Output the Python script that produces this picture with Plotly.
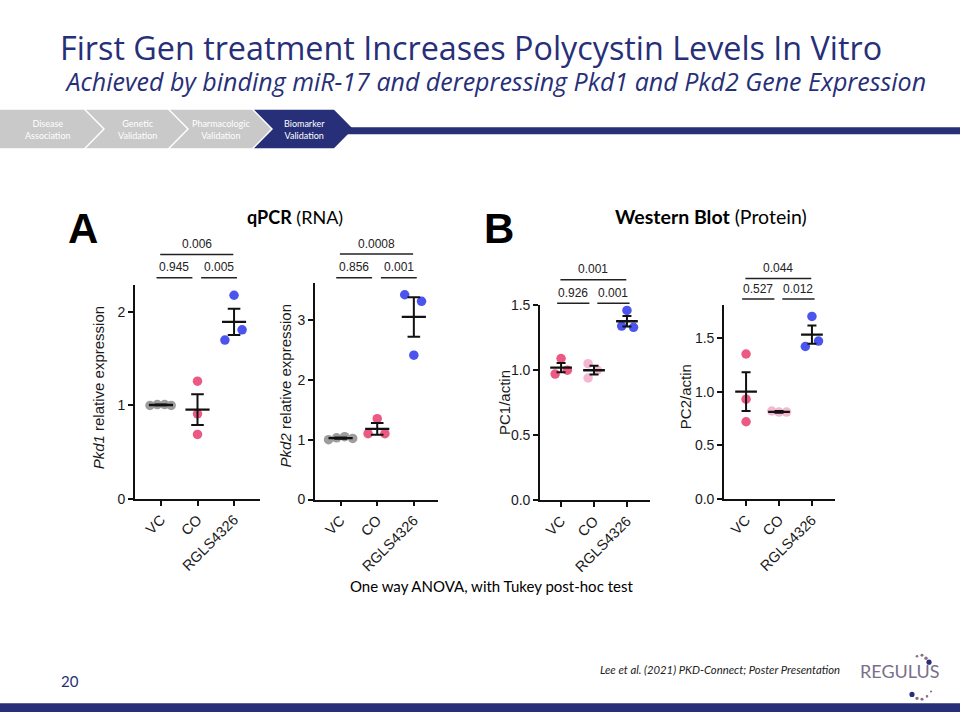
import plotly.graph_objects as go

# ---------------- data ----------------
CATEGORIES = ["VC", "CO", "RGLS4326"]

PKD1_VC = [1.00, 1.01, 1.01, 1.00]
PKD1_CO = [1.26, 0.91, 0.69]
PKD1_RGLS = [2.18, 1.81, 1.70]
PKD1_MEAN = [1.005, 0.955, 1.895]
PKD1_SEM = [0.004, 0.165, 0.14]
PKD1_P = ["0.945", "0.005", "0.006"]   # VC-CO, CO-RGLS, VC-RGLS

PKD2_VC = [1.00, 1.03, 1.05, 1.02]
PKD2_CO = [1.35, 1.10, 1.10]
PKD2_RGLS = [3.42, 3.31, 2.41]
PKD2_MEAN = [1.025, 1.18, 3.05]
PKD2_SEM = [0.01, 0.10, 0.33]
PKD2_P = ["0.856", "0.001", "0.0008"]

PC1_VC = [1.09, 0.97, 1.00]
PC1_CO = [1.05, 0.94, 1.00]
PC1_RGLS = [1.46, 1.34, 1.33]
PC1_MEAN = [1.02, 1.00, 1.377]
PC1_SEM = [0.035, 0.034, 0.04]
PC1_P = ["0.926", "0.001", "0.001"]

PC2_VC = [1.35, 0.93, 0.72]
PC2_CO = [0.82, 0.81, 0.81]
PC2_RGLS = [1.70, 1.42, 1.47]
PC2_MEAN = [1.00, 0.812, 1.53]
PC2_SEM = [0.18, 0.008, 0.085]
PC2_P = ["0.527", "0.012", "0.044"]

STEPS = ["Disease<br>Association", "Genetic<br>Validation",
         "Pharmacologic<br>Validation", "Biomarker<br>Validation"]

TITLE = "First Gen treatment Increases Polycystin Levels In Vitro"
SUBTITLE = "Achieved by binding miR-17 and derepressing Pkd1 and Pkd2 Gene Expression"

# ---------------- style ----------------
W, H = 960, 720
NAVY = "#272f78"
CHEV_GRAY = "#c9c9c9"
C_GRAY = "#9d9d9d"
C_PINK = "#ea5a83"
C_LPINK = "#f5b6d0"
C_BLUE = "#4b55ee"
AX_FONT = "Liberation Sans, Arial, sans-serif"
SLIDE_FONT = "Lato, Open Sans, sans-serif"
TITLE_FONT = "Open Sans, Lato, sans-serif"


def fx(x):
    return x / W


def fy(y):
    return 1 - y / H


CHARTS = [
    dict(groups=[PKD1_VC, PKD1_CO, PKD1_RGLS], mean=PKD1_MEAN, sem=PKD1_SEM, p=PKD1_P,
         colors=[C_GRAY, C_PINK, C_BLUE],
         jit=[[-0.30, -0.10, 0.10, 0.28], [0, 0, 0], [0, 0.22, -0.25]],
         px=(135, 260, 502, 283), xr=[-0.71, 2.71], yr=[0, 2.293],
         tickvals=[0, 1, 2], fmt="d", cap=6.3,
         title="<i>Pkd1</i> relative expression", tpos=(98, 389),
         br=(252, 276)),
    dict(groups=[PKD2_VC, PKD2_CO, PKD2_RGLS], mean=PKD2_MEAN, sem=PKD2_SEM, p=PKD2_P,
         colors=[C_GRAY, C_PINK, C_BLUE],
         jit=[[-0.33, -0.11, 0.11, 0.33], [0, -0.25, 0.21], [-0.25, 0.21, 0]],
         px=(315, 438, 502.7, 281), xr=[-0.70, 2.66], yr=[0, 3.62],
         tickvals=[0, 1, 2, 3], fmt="d", cap=6.3,
         title="<i>Pkd2</i> relative expression", tpos=(285, 387),
         br=(251.7, 276)),
    dict(groups=[PC1_VC, PC1_CO, PC1_RGLS], mean=PC1_MEAN, sem=PC1_SEM, p=PC1_P,
         colors=[C_PINK, C_LPINK, C_BLUE],
         jit=[[0, -0.18, 0.19], [-0.18, -0.18, 0.1], [0, -0.16, 0.2]],
         px=(540, 650, 503.3, 304), xr=[-0.64, 2.70], yr=[0, 1.5],
         tickvals=[0, 0.5, 1.0, 1.5], fmt=".1f", cap=4.5,
         title="PC1/actin", tpos=(504, 404),
         br=(278, 302)),
    dict(groups=[PC2_VC, PC2_CO, PC2_RGLS], mean=PC2_MEAN, sem=PC2_SEM, p=PC2_P,
         colors=[C_PINK, C_LPINK, C_BLUE],
         jit=[[0, 0, 0], [-0.22, 0, 0.23], [0, -0.2, 0.2]],
         px=(724, 835, 502.3, 303.3), xr=[-0.67, 2.70], yr=[0, 1.81],
         tickvals=[0, 0.5, 1.0, 1.5], fmt=".1f", cap=4.5,
         title="PC2/actin", tpos=(685, 398),
         br=(276.7, 297.7)),
]

MEAN_HALF = 0.33
BRACKETS = [(-0.12, 0.86), (1.1, 2.08), (-0.02, 1.98)]  # VC-CO, CO-RGLS, VC-RGLS

fig = go.Figure()
shapes = []
annotations = []
layout_axes = {}


def text(xpx, ypx, txt, size, color="black", family=SLIDE_FONT, xanchor="center",
         yanchor="middle", **kw):
    annotations.append(dict(x=fx(xpx), y=fy(ypx), xref="paper", yref="paper",
                            xanchor=xanchor, yanchor=yanchor, text=txt, showarrow=False,
                            font=dict(family=family, size=size, color=color), **kw))


for k, ch in enumerate(CHARTS):
    n = "" if k == 0 else str(k + 1)
    xa, ya = "x" + n, "y" + n
    xl, xr_, yb, yt = ch["px"]
    layout_axes["xaxis" + n] = dict(
        domain=[fx(xl), fx(xr_)], range=ch["xr"], anchor=ya,
        tickvals=[0, 1, 2], ticktext=CATEGORIES, tickangle=-45,
        showline=True, linecolor="#111", linewidth=1.6, ticks="outside",
        ticklen=5, tickwidth=1.6, tickcolor="#111", showgrid=False, zeroline=False,
        tickfont=dict(family=AX_FONT, size=14.5, color="#1a1a1a"), fixedrange=True)
    layout_axes["yaxis" + n] = dict(
        domain=[fy(yb), fy(yt)], range=ch["yr"], anchor=xa,
        tickvals=ch["tickvals"], tickformat=ch["fmt"],
        showline=True, linecolor="#111", linewidth=1.6, ticks="outside",
        ticklen=5, tickwidth=1.6, tickcolor="#111", showgrid=False, zeroline=False,
        tickfont=dict(family=AX_FONT, size=14, color="#1a1a1a"), fixedrange=True)

    for gi, (vals, col, jit) in enumerate(zip(ch["groups"], ch["colors"], ch["jit"])):
        fig.add_trace(go.Scatter(
            x=[gi + j for j in jit], y=vals, mode="markers", xaxis=xa, yaxis=ya,
            marker=dict(size=9.5, color=col, line=dict(width=0)),
            cliponaxis=False, showlegend=False, hoverinfo="skip"))

    fig.add_trace(go.Scatter(
        x=[0, 1, 2], y=ch["mean"], mode="markers", xaxis=xa, yaxis=ya,
        marker=dict(size=1, color="rgba(0,0,0,0)"),
        error_y=dict(type="data", array=ch["sem"], visible=True, color="#111",
                     thickness=2, width=ch["cap"]),
        cliponaxis=False, showlegend=False, hoverinfo="skip"))

    mx, my = [], []
    for gi, m in enumerate(ch["mean"]):
        mx += [gi - MEAN_HALF, gi + MEAN_HALF, None]
        my += [m, m, None]
    fig.add_trace(go.Scatter(
        x=mx, y=my, mode="lines", xaxis=xa, yaxis=ya,
        line=dict(color="#111", width=2.4), cliponaxis=False,
        showlegend=False, hoverinfo="skip"))

    top_y, low_y = ch["br"]
    for bi, ((b0, b1), ptxt) in enumerate(zip(BRACKETS, ch["p"])):
        yline = top_y if bi == 2 else low_y
        shapes.append(dict(type="line", xref=xa, yref="paper", x0=b0, x1=b1,
                           y0=fy(yline), y1=fy(yline),
                           line=dict(color="#222", width=1.5)))
        annotations.append(dict(x=(b0 + b1) / 2, y=fy(yline - 1.5), xref=xa, yref="paper",
                                xanchor="center", yanchor="bottom",
                                text=ptxt, showarrow=False,
                                font=dict(family=AX_FONT, size=12, color="#222")))

    tx, ty = ch["tpos"]
    text(tx, ty, ch["title"], 15, "#1a1a1a", AX_FONT, textangle=-90)

# ---------------- slide decorations ----------------
def path(pts):
    return "M " + " L ".join(f"{fx(a)},{fy(b)}" for a, b in pts) + " Z"


CH_TOP, CH_BOT, CH_MID = 104, 143.5, 123.8
chev_x = [(0, 84), (86, 168), (170, 252), (254, 334)]
for i, (a, b) in enumerate(chev_x):
    tip = 19
    if i == 0:
        pts = [(a, CH_TOP), (b, CH_TOP), (b + tip, CH_MID), (b, CH_BOT), (a, CH_BOT)]
    else:
        pts = [(a, CH_TOP), (b, CH_TOP), (b + tip, CH_MID), (b, CH_BOT), (a, CH_BOT),
               (a + tip, CH_MID)]
    col = NAVY if i == 3 else CHEV_GRAY
    shapes.append(dict(type="path", xref="paper", yref="paper", path=path(pts),
                       fillcolor=col, line=dict(width=0), layer="below"))
    cx = (a + b) / 2 + (10 if i else 6)
    text(cx, CH_MID, STEPS[i], 9, "white", align="center")

shapes.append(dict(type="rect", xref="paper", yref="paper", x0=fx(346), x1=fx(960),
                   y0=fy(129), y1=fy(122), fillcolor=NAVY, line=dict(width=0), layer="below"))
shapes.append(dict(type="rect", xref="paper", yref="paper", x0=0, x1=1,
                   y0=0, y1=fy(711), fillcolor=NAVY, line=dict(width=0), layer="below"))

# title + subtitle in one text block
text(58, 55,
     f"<span style='font-size:32.3px'>{TITLE}</span><br>"
     f"<span style='font-size:25px'>&nbsp;<i>{SUBTITLE}</i></span>",
     24, NAVY, TITLE_FONT, xanchor="left", align="left")

for lab, xpx in [("A", 66), ("B", 482)]:
    text(xpx, 226, f"<b>{lab}</b>", 42, "black", AX_FONT, xanchor="left")
text(245, 214, "<b>qPCR</b> (RNA)", 18, xanchor="left")
text(613, 213, "<b>Western Blot</b> (Protein)", 19.5, xanchor="left")
text(491, 591, "One way ANOVA, with Tukey post-hoc test", 15)

text(842, 677, "<i>Lee et al. (2021) PKD-Connect; Poster Presentation</i>", 11.3, "#222",
     xanchor="right")
text(59, 688, "20", 15, NAVY, xanchor="left")
text(900, 678, "REGULUS", 18, "#7a6f8a")
for (cx, cy, r, c) in [(917, 663, 1.3, "#8a6f86"), (922, 662, 1.5, "#8a6f86"),
                       (926, 665, 1.7, "#8a6f86"), (929, 669, 2.6, NAVY),
                       (912, 702, 2.6, NAVY), (917, 706, 1.7, "#8a6f86"),
                       (922, 707, 1.5, "#8a6f86"), (927, 704, 1.3, "#8a6f86"),
                       (931, 699, 1.1, "#8a6f86")]:
    shapes.append(dict(type="circle", xref="paper", yref="paper",
                       x0=fx(cx - r), x1=fx(cx + r), y0=fy(cy + r), y1=fy(cy - r),
                       fillcolor=c, line=dict(width=0)))

fig.update_layout(width=W, height=H, margin=dict(l=0, r=0, t=0, b=0),
                  paper_bgcolor="white", plot_bgcolor="white",
                  shapes=shapes, annotations=annotations, **layout_axes)

fig.write_html("out.html", config={"displayModeBar": False})
